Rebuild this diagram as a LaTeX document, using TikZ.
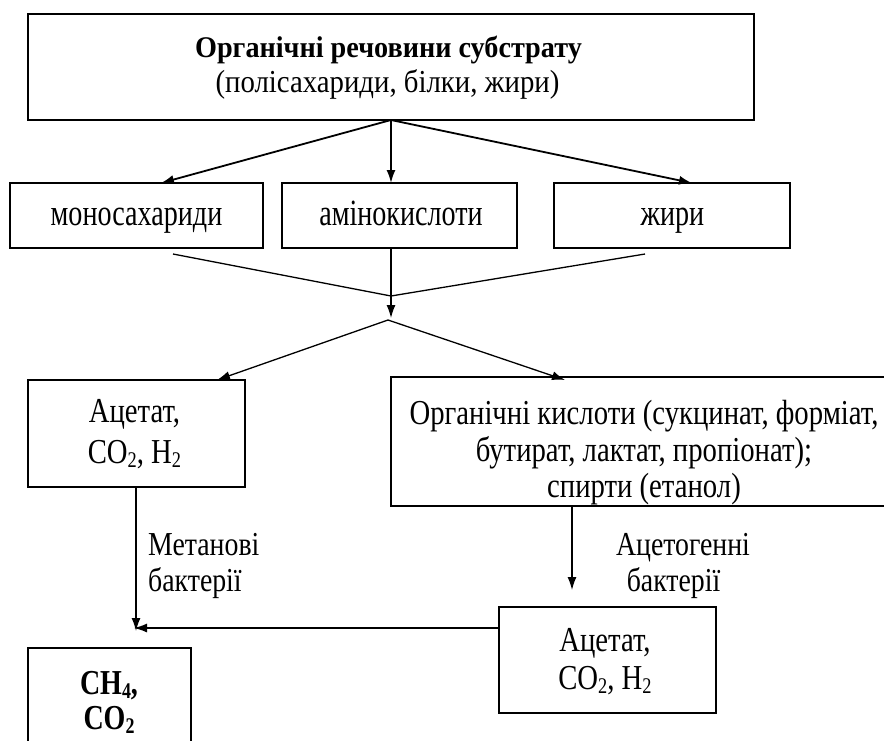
\documentclass[tikz,border=0pt]{standalone}
\usepackage{fontspec}
\setmainfont{Liberation Serif}
\newfontfamily\fTitle{Liberation Serif}[FakeStretch=0.94]
\newfontfamily\fTop{Liberation Serif}[FakeStretch=0.90]
\newfontfamily\fRow{Liberation Serif}[FakeStretch=0.76]
\newfontfamily\fBox{Liberation Serif}[FakeStretch=0.82]
\newfontfamily\fLab{Liberation Serif}[FakeStretch=0.83]
\newfontfamily\fFin{Liberation Serif}[FakeStretch=0.80]
\newcommand\sbs[1]{\raisebox{-0.13em}{\scalebox{0.64}{#1}}}
\usetikzlibrary{arrows.meta}
\begin{document}
\begin{tikzpicture}[x=1pt,y=-1pt,
  box/.style={draw, line width=1.8pt, inner sep=0pt},
  ln/.style={inner sep=0pt, anchor=base},
  ttl/.style={ln, font=\fTitle\bfseries\fontsize{30}{36}\selectfont},
  tsub/.style={ln, font=\fTop\fontsize{32}{38}\selectfont},
  rowt/.style={ln, font=\fRow\fontsize{37}{44}\selectfont},
  boxt/.style={ln, font=\fBox\fontsize{35}{40}\selectfont},
  labt/.style={ln, font=\fLab\fontsize{33.5}{38}\selectfont},
  fint/.style={ln, font=\fFin\bfseries\fontsize{35}{40}\selectfont},
  arr/.style={line width=1.8pt, -{Latex[length=13pt,width=9pt]}},
  thin/.style={line width=1.3pt},
  tarr/.style={line width=1.3pt, -{Latex[length=13pt,width=9pt]}}]
\clip (0,0) rectangle (884,740);
\fill[white] (0,0) rectangle (884,740);
% boxes
\node[box, minimum width=726pt, minimum height=106pt] (top) at (391,67) {};
\node[box, minimum width=253pt, minimum height=65pt] (m1) at (136.5,215.5) {};
\node[box, minimum width=235pt, minimum height=65pt] (m2) at (399.5,215.5) {};
\node[box, minimum width=236pt, minimum height=65pt] (m3) at (672,215.5) {};
\node[box, minimum width=217pt, minimum height=107pt] (a1) at (136.5,433.5) {};
\node[box, minimum width=499pt, minimum height=129pt] (oa) at (640.5,441.5) {};
\node[box, minimum width=217pt, minimum height=106pt] (a2) at (607.5,660) {};
\node[box, minimum width=163pt, minimum height=102pt] (fin) at (109.5,699) {};
% texts
\node[ttl] (t1l) at (388.5,57) {Органічні речовини субстрату};
\node[tsub] (t2l) at (387.5,92) {(полісахариди, білки, жири)};
\node[rowt] (m1t) at (136.5,225) {моносахариди};
\node[rowt] (m2t) at (401,225) {амінокислоти};
\node[rowt] (m3t) at (672.5,225) {жири};
\node[boxt] (a1l1) at (134.5,422) {Ацетат,};
\node[boxt] (a1l2) at (134.5,463) {CO\sbs{2}, H\sbs{2}};
\node[boxt] (oal1) at (644,424) {Органічні кислоти (сукцинат, форміат,};
\node[boxt] (oal2) at (644,461) {бутират, лактат, пропіонат);};
\node[boxt] (oal3) at (644,497) {спирти (етанол)};
\node[boxt] (a2l1) at (605,651) {Ацетат,};
\node[boxt] (a2l2) at (605,689) {CO\sbs{2}, H\sbs{2}};
\node[fint] (f1) at (109,694) {CH\sbs{4},};
\node[fint] (f2) at (109,729) {CO\sbs{2}};
\node[labt, anchor=base west] (lab1a) at (148,555) {Метанові};
\node[labt, anchor=base west] (lab1b) at (148,591) {бактерії};
\node[labt] (lab2a) at (683,555) {Ацетогенні};
\node[labt] (lab2b) at (673.5,591) {бактерії};
% coordinates
\coordinate (ts) at (391,120);
\coordinate (tg1) at (161,183);
\coordinate (tg2) at (391,183);
\coordinate (tg3) at (692,183);
\coordinate (l1) at (173,254);
\coordinate (l3) at (645,254);
\coordinate (ms) at (391,248);
\coordinate (mj) at (391,296);
\coordinate (md) at (391,318);
\coordinate (sp) at (388,320);
\coordinate (ta1) at (217,380);
\coordinate (ta2) at (565,380);
\coordinate (a1s) at (136,487);
\coordinate (a1e) at (136,631);
\coordinate (oas) at (572,506);
\coordinate (oae) at (572,590);
\coordinate (a2w) at (499,628);
\coordinate (a2e) at (134,628);
% connectors
\draw[arr] (ts) -- (tg1);
\draw[arr] (ts) -- (tg2);
\draw[arr] (ts) -- (tg3);
\draw[thin] (l1) -- (mj) -- (l3);
\draw[tarr] (ms) -- (md);
\draw[tarr] (sp) -- (ta1);
\draw[tarr] (sp) -- (ta2);
\draw[tarr] (a1s) -- (a1e);
\draw[tarr] (oas) -- (oae);
\draw[tarr] (a2w) -- (a2e);
\end{tikzpicture}
\end{document}
